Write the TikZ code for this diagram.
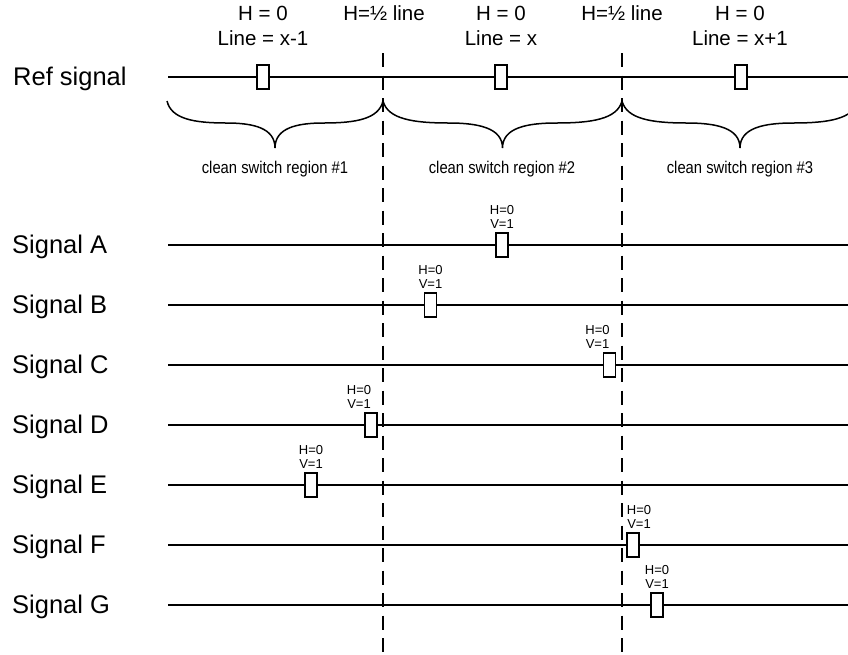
\documentclass[tikz,border=0pt]{standalone}
\usepackage{fontspec}
\setmainfont{Liberation Sans}
\newfontfamily\narrowfont[FakeStretch=0.87]{Liberation Sans}
\newcommand\mybrace[2]{%
  \pgfmathsetmacro\bA{#1}\pgfmathsetmacro\bB{#2}%
  \pgfmathsetmacro\bM{(#1+#2)/2}\pgfmathsetmacro\bW{(#2-#1)/2}%
  \draw[brace] (\bA,101) .. controls ({\bA+0.04*\bW},119) and ({\bA+0.25*\bW},123) .. ({\bA+0.55*\bW},123)
    .. controls ({\bM-0.2*\bW},123) and (\bM,128) .. (\bM,148)
    .. controls (\bM,128) and ({\bM+0.2*\bW},123) .. ({\bM+0.45*\bW},123)
    .. controls ({\bB-0.25*\bW},123) and ({\bB-0.04*\bW},119) .. (\bB,101);}
\begin{document}
\begin{tikzpicture}[x=1pt,y=-1pt,
  sig/.style={line width=1.5pt},
  marker/.style={draw, fill=white, line width=1.3pt, minimum width=12pt, minimum height=24pt, inner sep=0pt},
  sidelabel/.style={anchor=base west, font=\fontsize{25.5}{30}\selectfont, inner sep=0pt},
  toplabel/.style={anchor=base, font=\fontsize{20.5}{24}\selectfont, inner sep=0pt},
  small/.style={anchor=base, font=\fontsize{13}{15}\selectfont, inner sep=0pt},
  region/.style={anchor=base, font=\narrowfont\fontsize{17}{20}\selectfont, inner sep=0pt},
  divider/.style={line width=1.5pt, dash pattern=on 14pt off 8.5pt},
  brace/.style={line width=1.5pt}
]
\useasboundingbox (0,0) rectangle (848,654);

% top labels
\node[toplabel] (t1a) at (263,20) {H = 0};
\node[toplabel] (t1b) at (263,45) {Line = x-1};
\node[toplabel] (th1) at (384,20) {H=½ line};
\node[toplabel] (t2a) at (501,20) {H = 0};
\node[toplabel] (t2b) at (501,45) {Line = x};
\node[toplabel] (th2) at (622,20) {H=½ line};
\node[toplabel] (t3a) at (740,20) {H = 0};
\node[toplabel] (t3b) at (740,45) {Line = x+1};

% side labels
\node[sidelabel] (lref) at (13,85) {Ref signal};
\node[sidelabel] (lA) at (12,253) {Signal A};
\node[sidelabel] (lB) at (12,313) {Signal B};
\node[sidelabel] (lC) at (12,373) {Signal C};
\node[sidelabel] (lD) at (12,433) {Signal D};
\node[sidelabel] (lE) at (12,493) {Signal E};
\node[sidelabel] (lF) at (12,553) {Signal F};
\node[sidelabel] (lG) at (12,613) {Signal G};

% signal lines
\foreach \nm/\yy in {ref/77,A/245,B/305,C/365,D/425,E/485,F/545,G/605}{
  \coordinate (\nm L) at (168,\yy);
  \coordinate (\nm R) at (848,\yy);
  \draw[sig] (\nm L) -- (\nm R);
}

% dashed dividers
\coordinate (d1t) at (383,53);
\coordinate (d1b) at (383,660);
\coordinate (d2t) at (622,53);
\coordinate (d2b) at (622,660);
\draw[divider] (d1t) -- (d1b);
\draw[divider] (d2t) -- (d2b);

% braces
\begin{scope}
\clip (0,0) rectangle (848,654);
\mybrace{167}{383}
\mybrace{383}{622}
\mybrace{622}{858}
\end{scope}
\node[region] (r1) at (275,173) {clean switch region \#1};
\node[region] (r2) at (502,173) {clean switch region \#2};
\node[region] (r3) at (740,173) {clean switch region \#3};

% ref markers
\node[marker] (m1) at (263,77) {};
\node[marker] (m2) at (501,77) {};
\node[marker] (m3) at (741,77) {};

% signal markers with labels
\foreach \nm/\bx/\lx/\yy in {A/502/502/245,B/430.5/430.5/305,C/609.5/597.5/365,D/371/359/425,E/311/311/485,F/633/639/545,G/657/657/605}{
  \node[marker] (b\nm) at (\bx,\yy) {};
  \node[small] (h\nm) at (\lx,\yy-31) {H=0};
  \node[small] (v\nm) at (\lx,\yy-17) {V=1};
}
\end{tikzpicture}
\end{document}
